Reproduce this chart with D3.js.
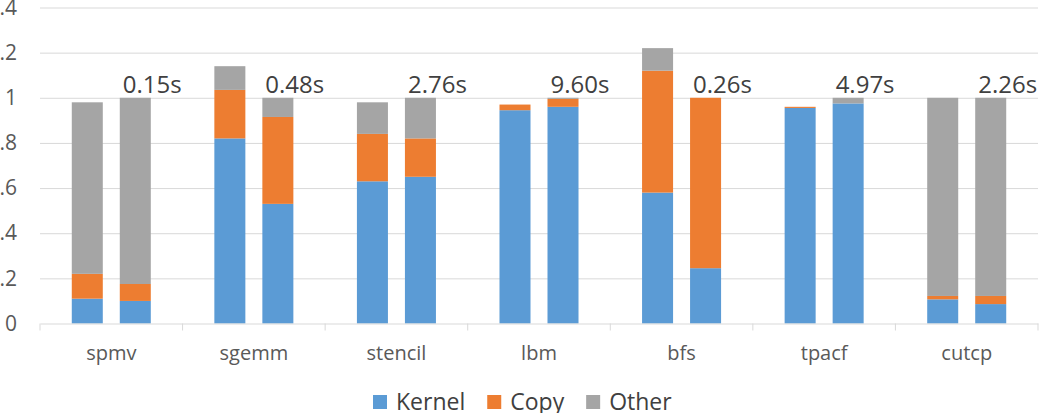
<!DOCTYPE html>
<html>
<head>
<meta charset="utf-8">
<script src="https://cdn.jsdelivr.net/npm/d3@7"></script>
<style>
  body { margin: 0; background: #fff; }
  svg { display: block; font-family: "Open Sans", sans-serif; }
</style>
</head>
<body>
<svg id="chart" width="1047" height="413"></svg>
<script>
// benchmarks, each has two bars (stacked: kernel / copy / other)
var benchmarks = ["spmv", "sgemm", "stencil", "lbm", "bfs", "tpacf", "cutcp"];
var kernel = [[0.11, 0.10], [0.82, 0.53], [0.63, 0.65], [0.945, 0.96], [0.58, 0.245], [0.955, 0.975], [0.107, 0.086]];
var copy   = [[0.11, 0.075], [0.215, 0.385], [0.21, 0.17], [0.025, 0.035], [0.54, 0.755], [0.005, 0], [0.015, 0.036]];
var other  = [[0.76, 0.825], [0.105, 0.085], [0.14, 0.18], [0, 0.005], [0.10, 0], [0, 0.025], [0.878, 0.878]];
var times  = ["0.15s", "0.48s", "2.76s", "9.60s", "0.26s", "4.97s", "2.26s"];
var yTicks = [0, 0.2, 0.4, 0.6, 0.8, 1, 1.2, 1.4];
var seriesNames = ["Kernel", "Copy", "Other"];
var colors = ["#5B9BD5", "#ED7D31", "#A5A5A5"];

var svg = d3.select("#chart");

var x = d3.scaleBand()
    .domain(benchmarks)
    .range([40, 1038])
    .padding(0);

var inner = d3.scaleBand()
    .domain([0, 1])
    .range([0, x.bandwidth()])
    .paddingInner(0.354)
    .paddingOuter(0.662);

var y = d3.scaleLinear()
    .domain([0, 1.4])
    .range([323.5, 7.5]);

// gridlines
var grid = svg.append("g")
    .attr("transform", "translate(40,0)")
    .call(d3.axisLeft(y).tickValues(yTicks.slice(1)).tickSize(-998).tickFormat(""));
grid.select(".domain").remove();
grid.selectAll("line").attr("stroke", "#D9D9D9").attr("stroke-width", 1);

// y labels (left digit falls off the page like in the original)
var yAxis = svg.append("g")
    .attr("transform", "translate(25,0)")
    .call(d3.axisLeft(y).tickValues(yTicks).tickSize(0).tickPadding(8).tickFormat(function(d) { return String(d); }));
yAxis.select(".domain").remove();
yAxis.selectAll("text")
    .attr("fill", "#595959")
    .style("font-size", "21px")
    .style("font-family", "Open Sans");

// stacked data
var bars = [];
benchmarks.forEach(function(b, i) {
    for (var j = 0; j < 2; j++) {
        var vals = [kernel[i][j], copy[i][j], other[i][j]];
        var base = 0;
        vals.forEach(function(v, k) {
            bars.push({ bench: b, bar: j, s: k, y0: base, y1: base + v });
            base += v;
        });
    }
});

svg.append("g").selectAll("rect")
    .data(bars.filter(function(d) { return d.y1 > d.y0; }))
    .enter().append("rect")
    .attr("x", function(d) { return x(d.bench) + inner(d.bar); })
    .attr("width", inner.bandwidth())
    .attr("y", function(d) { return y(d.y1); })
    .attr("height", function(d) { return y(d.y0) - y(d.y1); })
    .attr("fill", function(d) { return colors[d.s]; });

// x axis line + group ticks
var xAxis = svg.append("g")
    .attr("transform", "translate(0," + y(0) + ")")
    .call(d3.axisBottom(x).tickSize(0).tickPadding(22));
xAxis.select(".domain").attr("stroke", "#D9D9D9");
xAxis.selectAll("text")
    .attr("fill", "#595959")
    .style("font-size", "20px")
    .style("font-family", "Open Sans");

var edges = benchmarks.map(function(b) { return x(b); }).concat([x.range()[1]]);
svg.append("g").selectAll("line")
    .data(edges)
    .enter().append("line")
    .attr("x1", function(d) { return d; })
    .attr("x2", function(d) { return d; })
    .attr("y1", y(0))
    .attr("y2", y(0) + 7)
    .attr("stroke", "#D9D9D9");

// runtime labels over second bar
svg.append("g").selectAll("text")
    .data(benchmarks)
    .enter().append("text")
    .attr("x", function(b) { return x(b) + inner(1) + 3; })
    .attr("y", 93)
    .attr("fill", "#404040")
    .style("font-size", "24px")
    .text(function(b, i) { return times[i]; });

// legend
var legend = svg.append("g").attr("transform", "translate(373,0)");
var lx = 0;
seriesNames.forEach(function(name, i) {
    legend.append("rect")
        .attr("x", lx)
        .attr("y", 395)
        .attr("width", 14)
        .attr("height", 14)
        .attr("fill", colors[i]);
    var t = legend.append("text")
        .attr("x", lx + 23)
        .attr("y", 409.5)
        .attr("fill", "#404040")
        .style("font-size", "23px")
        .text(name);
    lx += 23 + t.node().getComputedTextLength() + 22;
});
</script>
</body>
</html>
